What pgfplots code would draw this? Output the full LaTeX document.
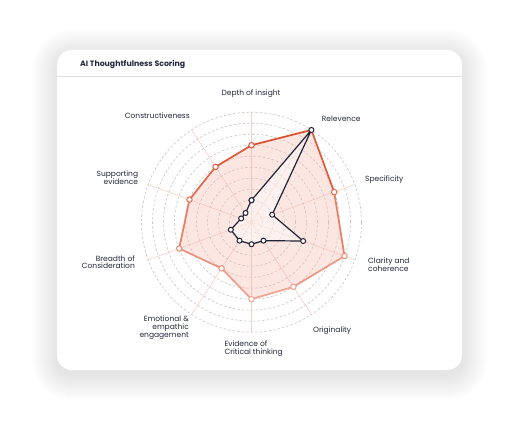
\documentclass[border=0pt]{standalone}
\usepackage{fontspec}
\setmainfont{Poppins}
\usepackage{pgfplots}
\pgfplotsset{compat=1.18}
\usepgfplotslibrary{polar}
\definecolor{txt}{HTML}{24273B}
\definecolor{navy}{HTML}{1F2336}
\definecolor{spoke}{HTML}{F8CFC6}
\definecolor{ring}{HTML}{C6C6C6}
\definecolor{fillc}{HTML}{F5B5A6}
\begin{document}
\begin{tikzpicture}
\path[use as bounding box] (0,0) rectangle (510pt,424pt);
% shadow
\foreach \i in {1,...,26}{
  \pgfmathsetmacro\r{15+\i}
  \fill[black, opacity=0.005, rounded corners=\r pt] ({(57-\i)*1pt},{(49-\i)*1pt}) rectangle ({(462+\i)*1pt},{(369+\i)*1pt});
}
% card
\fill[white, rounded corners=15pt] (57pt,54pt) rectangle (462pt,374pt);
\draw[black!12, line width=0.6pt] (57pt,348pt) -- (462pt,348pt);
\node[anchor=west, font=\bfseries\fontsize{7.8}{8}\selectfont, text=txt, inner sep=0pt] at (80pt,359.7pt) {AI Thoughtfulness Scoring};

\begin{polaraxis}[
  at={(251.5pt,201.8pt)}, anchor=center,
  scale only axis, width=220pt, height=220pt,
  ymin=0, ymax=10,
  xtick={90,57,20,340,303,270,237,200,160,123},
  ytick={1,2,3,4,5,6,7,8,9,10},
  xticklabels={}, yticklabels={},
  grid=major, major tick length=0pt,
  axis line style={draw=none},
  x grid style={color=spoke, line width=0.6pt},
  y grid style={color=ring, dash pattern=on 2.5pt off 2pt, line width=0.6pt},
  point meta min=-7, point meta max=8.4,
  colormap={redg}{rgb255(0)=(243,166,150) rgb255(1)=(222,74,38)},
  clip=false,
]
% red fill
\addplot[draw=none, fill=fillc, fill opacity=0.33] coordinates {
  (90,7) (57,10) (20,8) (340,9) (303,7) (270,7) (237,5) (200,7) (160,6) (123,6) (90,7)};
% dark polygon light fill
\addplot[draw=none, fill=white, fill opacity=0.45] coordinates {
  (90,2) (57,10) (20,2) (340,5) (303,2) (270,2) (237,2) (200,2) (160,1) (123,1) (90,2)};
% red line with gradient (meta = vertical position)
\addplot[mesh, point meta=explicit, line width=1.7pt, line cap=round] coordinates {
  (90,7) [7] (57,10) [8.39] (20,8) [2.74] (340,9) [-3.08] (303,7) [-5.87]
  (270,7) [-7] (237,5) [-4.19] (200,7) [-2.39] (160,6) [2.05] (123,6) [5.03] (90,7) [7]};
% red markers
\addplot[scatter, only marks, point meta=explicit, mark=*, mark size=2.7pt,
  scatter/use mapped color={draw=mapped color, fill=white}, mark options={line width=1pt}] coordinates {
  (90,7) [7] (20,8) [2.74] (340,9) [-3.08] (303,7) [-5.87]
  (270,7) [-7] (237,5) [-4.19] (200,7) [-2.39] (160,6) [2.05] (123,6) [5.03]};
% dark series
\addplot[draw=navy, line width=1.2pt, line join=round, mark=*, mark size=2.5pt,
  mark options={fill=white, draw=navy, line width=1pt}] coordinates {
  (90,2) (57,10) (20,2) (340,5) (303,2) (270,2) (237,2) (200,2) (160,1) (123,1) (90,2)};
\end{polaraxis}

\begin{scope}[every node/.style={font=\fontsize{7.5}{7.8}\selectfont, text=txt, inner sep=0pt}]
\node[anchor=center] at (251pt,330.7pt) {Depth of insight};
\node[anchor=west] at (321.7pt,305pt) {Relevence};
\node[anchor=east] at (190pt,308.7pt) {Constructiveness};
\node[anchor=west] at (365pt,244pt) {Specificity};
\node[anchor=west, align=left] at (368pt,159pt) {Clarity and\\coherence};
\node[anchor=west] at (313pt,93.3pt) {Originality};
\node[anchor=west, align=left] at (224.3pt,75.7pt) {Evidence of\\Critical thinking};
\node[anchor=east, align=right] at (189pt,96.3pt) {Emotional \&\\empathic\\engagement};
\node[anchor=east, align=right] at (135pt,161.8pt) {Breadth of\\Consideration};
\node[anchor=east, align=right] at (138.3pt,246.2pt) {Supporting\\evidence};
\end{scope}
\end{tikzpicture}
\end{document}
